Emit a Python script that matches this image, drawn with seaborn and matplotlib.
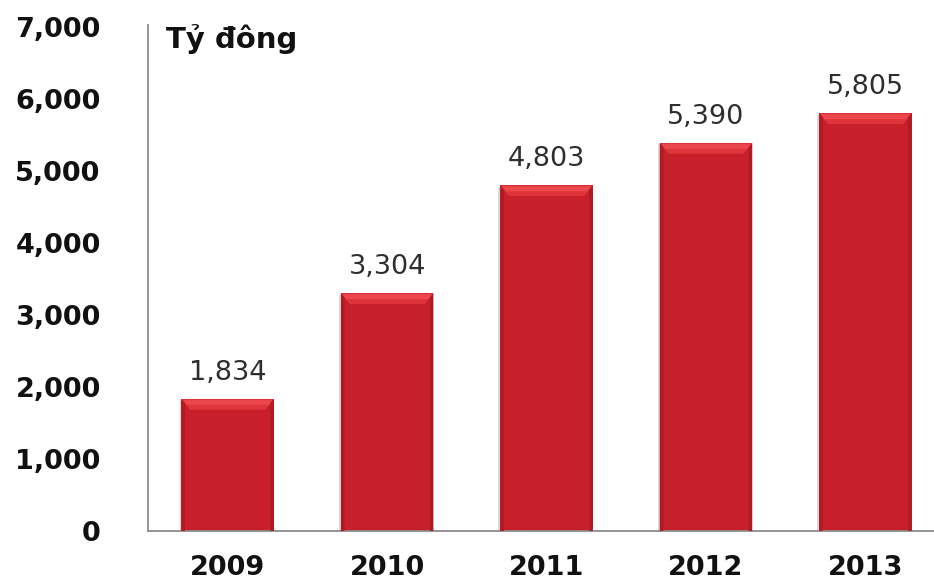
import matplotlib
matplotlib.use("Agg")
import matplotlib.pyplot as plt
from matplotlib.patches import Polygon
import seaborn as sns
import pandas as pd

years = ["2009", "2010", "2011", "2012", "2013"]
revenue = [1834, 3304, 4803, 5390, 5805]
y_ticks = [0, 1000, 2000, 3000, 4000, 5000, 6000, 7000]
unit_label = "Tỷ đông"

bar_color = "#C8202A"
bevel_top = "#E0343B"
bevel_glow = "#EB474D"
bevel_side = "#AE1B23"

sns.set_theme(style="white")
plt.rcParams["font.family"] = ["DejaVu Sans"]

df = pd.DataFrame({"year": years, "revenue": revenue})

fig = plt.figure(figsize=(9.34, 5.8), dpi=100)
ax = fig.add_axes([148 / 934, 1 - 531 / 580, 1 - 148 / 934, (531 - 25) / 580])

sns.barplot(data=df, x="year", y="revenue", color=bar_color, saturation=1,
            width=0.58, ax=ax, edgecolor="none", linewidth=0, zorder=2)

# bevel shading on each bar: soft shadow, lighter top facet, darker side edges
bevel_h = 150
bevel_w = 0.055
side_w = 0.022
for p in ax.patches[:len(revenue)]:
    x0 = p.get_x()
    w = p.get_width()
    h = p.get_height()
    x1 = x0 + w
    ax.add_patch(Polygon([(x0 - 0.012, 0), (x0 - 0.012, h - 20), (x0, h - 20), (x0, 0)],
                         closed=True, facecolor="#D9D9D9", edgecolor="none", zorder=1))
    ax.add_patch(Polygon([(x0, h), (x1, h), (x1 - bevel_w, h - bevel_h),
                          (x0 + bevel_w, h - bevel_h)],
                         closed=True, facecolor=bevel_top, edgecolor="none", zorder=3))
    ax.add_patch(Polygon([(x0 + 0.01, h - 15), (x1 - 0.01, h - 15),
                          (x1 - bevel_w * 0.6, h - bevel_h * 0.55),
                          (x0 + bevel_w * 0.6, h - bevel_h * 0.55)],
                         closed=True, facecolor=bevel_glow, edgecolor="none", zorder=3))
    ax.add_patch(Polygon([(x0, 0), (x0, h), (x0 + side_w, h - bevel_h * 0.4),
                          (x0 + side_w, 0)],
                         closed=True, facecolor=bevel_side, edgecolor="none", zorder=3))
    ax.add_patch(Polygon([(x1, 0), (x1, h), (x1 - side_w, h - bevel_h * 0.4),
                          (x1 - side_w, 0)],
                         closed=True, facecolor=bevel_side, edgecolor="none", zorder=3))

for i, v in enumerate(revenue):
    ax.annotate(f"{v:,}", xy=(i, v), xytext=(0, 14), textcoords="offset points",
                ha="center", va="baseline", fontsize=19.5, color="#2E2E2E")

ax.set_xlim(-0.5, 4.43)
ax.set_ylim(0, 7030)
ax.set_yticks(y_ticks)
ax.set_yticklabels([f"{t:,}" for t in y_ticks])
ax.set_xlabel("")
ax.set_ylabel("")

ax.tick_params(axis="y", length=0, pad=34, labelsize=19.5)
ax.tick_params(axis="x", length=0, pad=17, labelsize=19.5)
for lab in ax.get_xticklabels() + ax.get_yticklabels():
    lab.set_fontweight("bold")
    lab.set_color("#111111")

for side in ["top", "right"]:
    ax.spines[side].set_visible(False)
for side in ["left", "bottom"]:
    ax.spines[side].set_color("#8C8C8C")
    ax.spines[side].set_linewidth(1.3)

fig.text(166 / 934, 1 - 48 / 580, unit_label, fontsize=21, fontweight="bold",
         color="#111111", ha="left", va="baseline")

fig.savefig("out.png", dpi=100)
